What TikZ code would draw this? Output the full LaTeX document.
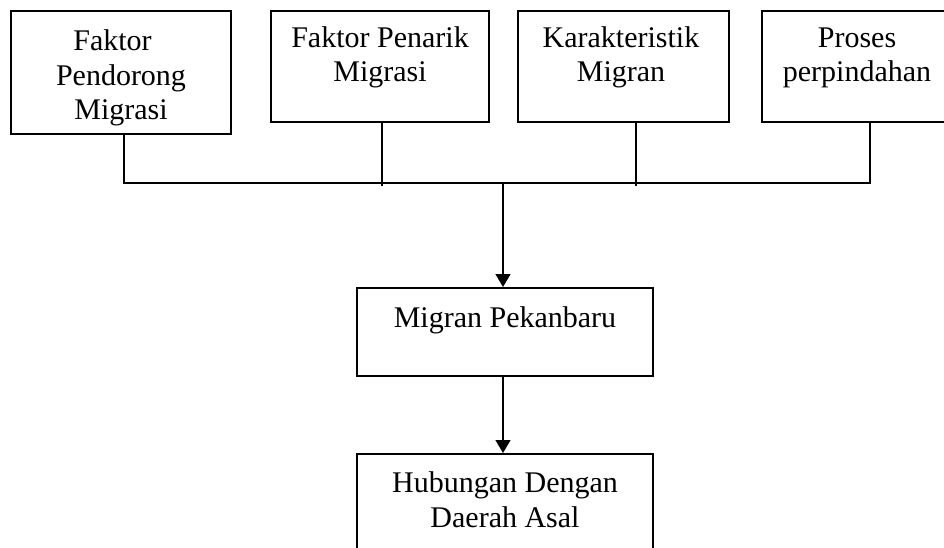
\documentclass[tikz,border=0pt]{standalone}
\usepackage{fontspec}
\setmainfont{Liberation Serif}
\usetikzlibrary{arrows.meta}
\begin{document}
\begin{tikzpicture}[x=1pt,y=-1pt,
  box/.style={draw,line width=2pt,inner sep=0pt},
  lbl/.style={font=\fontsize{30}{34.5}\selectfont,align=center,anchor=base,inner sep=0pt},
  conn/.style={line width=1.3pt},
  arr/.style={conn,-{Triangle[width=15pt,length=13pt]}}]
\useasboundingbox (0,0) rectangle (944,548);
\clip (0,0) rectangle (944,548);
% boxes
\node[box,minimum width=220pt,minimum height=123pt] (b1) at (121,72.5) {};
\node[box,minimum width=218pt,minimum height=111pt] (b2) at (380,66.5) {};
\node[box,minimum width=211pt,minimum height=111pt] (b3) at (623.5,66.5) {};
\node[box,minimum width=190pt,minimum height=111pt] (b4) at (857,66.5) {};
\node[box,minimum width=296pt,minimum height=88pt] (b5) at (505,332) {};
\node[box,minimum width=296pt,minimum height=146pt] (b6) at (505,527) {};
% labels (anchor = baseline of the last line)
\node[lbl] (t1) at (121,120) {Faktor\hspace*{17pt}\\Pendorong\\Migrasi};
\node[lbl] (t2) at (380,82) {Faktor Penarik\\Migrasi};
\node[lbl] (t3) at (621,82) {Karakteristik\\Migran};
\node[lbl] (t4) at (857,82) {Proses\\perpindahan};
\node[lbl] (t5) at (505,327) {Migran Pekanbaru};
\node[lbl] (t6) at (505,527) {Hubungan Dengan\\Daerah Asal};
% junctions
\coordinate (h1) at (124,183);
\coordinate (h2) at (382,183);
\coordinate (h3) at (636,183);
\coordinate (h4) at (870,183);
\coordinate (hm) at (503,183);
\draw[conn] (b1.south -| h1) -- (h1) -- (h4) -- (b4.south -| h4);
\draw[conn] (b2.south -| h2) -- ([yshift=-3pt]h2);
\draw[conn] (b3.south -| h3) -- ([yshift=-3pt]h3);
\draw[arr] (hm) -- (b5.north -| hm);
\draw[arr] (b5.south -| hm) -- (b6.north -| hm);
\end{tikzpicture}
\end{document}
